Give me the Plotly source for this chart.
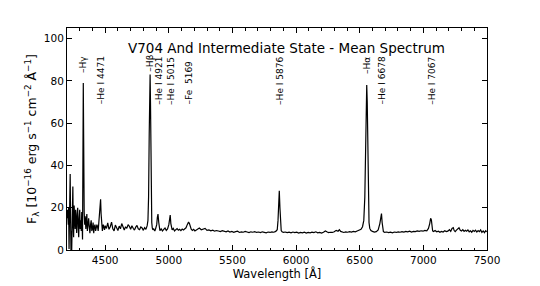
import plotly.graph_objects as go

wavelength = [
    4200, 4205, 4210, 4213, 4216, 4219, 4222, 4225, 4228, 4231, 4234, 4237, 4240, 4243, 4246, 4249,
    4252, 4256, 4260, 4264, 4268, 4272, 4276, 4280, 4284, 4288, 4292, 4296, 4300, 4304, 4308, 4312,
    4316, 4319, 4322, 4325, 4328, 4331, 4335, 4339, 4343, 4348, 4352, 4356, 4360, 4365, 4370, 4375, 4380,
    4385, 4390, 4395, 4400, 4405, 4410, 4415, 4420, 4425, 4430, 4435, 4440, 4445, 4450, 4455, 4460,
    4464, 4468, 4473, 4478, 4485, 4490, 4495,
    4500, 4510, 4520, 4530, 4540, 4550, 4560, 4570, 4580, 4590, 4600, 4610, 4620, 4630, 4640, 4650,
    4660, 4670, 4680, 4690, 4700, 4710, 4720, 4730, 4740, 4750, 4760, 4770, 4780, 4790, 4800, 4810,
    4820, 4830, 4836, 4841, 4846, 4850, 4853, 4856, 4859, 4862, 4866, 4870, 4875, 4880, 4890, 4895,
    4900, 4905, 4910, 4915, 4921, 4926, 4930, 4940, 4950, 4960, 4970, 4980, 4990, 5000, 5006, 5011,
    5016, 5021, 5026, 5035, 5045, 5055, 5065, 5075, 5085, 5095, 5105, 5115, 5125, 5135, 5145, 5155,
    5162, 5169, 5176, 5185, 5195, 5205, 5215,
    5225, 5240, 5255, 5270, 5285, 5300, 5315, 5330, 5345, 5360, 5375, 5390, 5405, 5420, 5435, 5450,
    5465, 5480, 5495, 5510, 5525, 5540, 5555, 5570, 5585, 5600, 5615, 5630, 5645, 5660, 5675, 5690,
    5705, 5720, 5735, 5750, 5765, 5780, 5795, 5810, 5825, 5840, 5852, 5858, 5863, 5868, 5873, 5878,
    5883, 5890, 5900, 5915, 5930, 5945, 5960, 5975, 5990, 6005, 6020, 6035, 6050, 6065, 6080, 6095,
    6110, 6125, 6140, 6155, 6170, 6185, 6200, 6215, 6230, 6245, 6255, 6270, 6285, 6300, 6315, 6330,
    6340, 6350, 6360, 6375, 6390, 6405, 6420, 6435, 6450, 6465, 6480, 6495, 6510, 6522, 6532, 6540,
    6546, 6551, 6555, 6559, 6563, 6568, 6573, 6579, 6588, 6600, 6615, 6630, 6645, 6658, 6666, 6671,
    6676, 6681, 6686, 6696, 6712, 6727, 6742, 6757, 6772, 6787, 6802, 6817, 6832, 6847, 6862, 6877,
    6892, 6907, 6922, 6937, 6952, 6967, 6982, 6997, 7012, 7027, 7040, 7050, 7057, 7063, 7068, 7073,
    7080, 7092, 7105, 7118, 7130, 7142, 7155, 7168, 7180, 7192, 7205, 7215, 7225, 7235, 7242, 7250,
    7260, 7270, 7280, 7290, 7300, 7310, 7320, 7330, 7340, 7350, 7360, 7370, 7380, 7390, 7400, 7410,
    7420, 7430, 7440, 7450, 7460, 7470, 7480, 7490, 7497, 7500,
]

flux = [
    15, 19, 12, 20, 0.5, 14, 22, 36, 17, 0, 9, 0, 13, 18, 30, 12,
    6, 21, 16, 10, 19, 14, 8, 17, 20, 11, 6, 15, 19, 10, 14, 9,
    18, 12, 5, 40, 79, 52, 18, 12, 16, 10, 14, 17, 9, 13, 15, 11,
    8, 12, 14, 9, 10, 13, 8, 11, 12, 9, 10, 12, 11, 9, 13, 16,
    21, 24, 17, 11, 9, 12, 10,
    9.5, 11.5, 10.2, 12.8, 9.8, 11.0, 13.2, 10.0, 9.0, 11.8, 10.5, 9.2, 11.3, 10.0, 12.5, 10.8,
    9.5, 11.0, 10.2, 12.0, 11.2, 9.8, 11.5, 10.3, 9.4, 10.8, 11.6, 10.0, 9.6, 10.9, 10.4, 9.3,
    10.6, 9.8, 11.5, 14, 25, 55, 78, 83, 70, 40, 20, 13, 10.5, 9.5, 10.2, 9.0,
    9.8, 10.5, 12, 15.5, 17, 13, 10, 9.2, 10.0, 9.0, 9.8, 10.4, 9.3, 10.0, 12, 15,
    16.5, 12.5, 10, 9.5, 10.2, 9.0, 9.6, 10.1, 9.4, 9.8, 9.2, 9.9, 9.5, 10.0, 10.5, 12,
    13.2, 12.5, 11, 9.8, 9.3, 9.8, 9.0,
    9.4, 9.9, 10.4, 9.6, 9.8, 10.2, 9.3, 9.5, 9.1, 9.4, 8.9, 9.2, 9.0, 8.7, 9.1, 8.8,
    8.6, 9.0, 8.5, 8.8, 8.4, 8.7, 8.9, 8.3, 8.6, 8.4, 8.8, 8.5, 8.2, 8.6, 8.4, 8.7,
    8.3, 8.5, 8.2, 8.6, 8.4, 8.1, 8.5, 8.3, 8.6, 8.4, 8.8, 9.6, 14, 24, 28, 20,
    11.5, 9.2, 8.6, 8.3, 8.5, 8.2, 8.4, 8.1, 8.5, 8.2, 8.4, 8.0, 8.3, 8.1, 8.4, 8.0,
    8.3, 8.1, 8.4, 8.2, 8.6, 8.1, 8.3, 8.0, 8.4, 9.0, 8.5, 8.2, 8.4, 8.3, 8.6, 9.3,
    8.9, 9.6, 8.8, 8.5, 8.3, 8.6, 8.4, 8.7, 8.5, 8.8, 8.6, 9.0, 9.3, 9.8, 11, 14,
    25, 48, 72, 78, 70, 44, 22, 13, 10.2, 9.2, 8.8, 8.5, 8.7, 9.5, 12.5, 16.5,
    17.2, 13, 9.8, 8.7, 8.3, 8.5, 8.2, 8.4, 8.1, 8.5, 8.3, 8.6, 8.4, 8.7, 8.5, 8.8,
    8.6, 8.9, 8.5, 8.8, 8.7, 9.0, 8.8, 9.1, 8.9, 9.3, 9.1, 10.2, 12.5, 15.0, 14.2, 10.6,
    9.0, 8.7, 9.2, 8.6, 8.9, 8.4, 8.8, 8.5, 9.1, 8.7, 8.9, 9.6, 8.8, 10.2, 10.6, 9.2,
    8.7, 9.4, 10.0, 10.5, 9.3, 9.0, 9.6, 8.8, 9.3, 8.9, 9.5, 8.6, 9.1, 8.4, 9.3, 8.8,
    9.4, 8.5, 9.2, 8.7, 9.5, 8.3, 9.0, 8.2, 9.1, 8.6,
]

line_labels = ["–Hγ", "–He I 4471", "–Hβ", "–He I 4921", "–He I 5015", "–Fe&nbsp; 5169",
               "–He I 5876", "–Hα", "–He I 6678", "–He I 7067"]
line_wavelengths = [4326, 4464, 4850, 4916, 5013, 5158, 5868, 6557, 6674, 7062]
label_heights = [83.0, 68.3, 84.0, 68.3, 68.3, 68.3, 68.3, 83.0, 68.3, 68.3]

title_text = "V704 And Intermediate State - Mean Spectrum"

FONT = "DejaVu Sans"

fig = go.Figure()
fig.add_trace(go.Scatter(x=wavelength, y=flux, mode="lines",
                         line=dict(color="black", width=1.2), showlegend=False,
                         hoverinfo="skip"))

for lab, wl, h in zip(line_labels, line_wavelengths, label_heights):
    fig.add_annotation(x=wl, y=h, text=lab, textangle=-90, showarrow=False,
                       xanchor="center", yanchor="bottom", borderpad=0,
                       font=dict(family=FONT, size=9, color="black"))

fig.add_annotation(x=5925, y=95.4, text=title_text, showarrow=False,
                   xanchor="center", yanchor="middle",
                   font=dict(family=FONT, size=13.5, color="black"))

# page body has an 8px default margin, so the figure is shifted by 8px
fig.update_layout(
    width=532, height=278,
    margin=dict(l=59, r=53, t=20, b=29),
    paper_bgcolor="white", plot_bgcolor="white",
    font=dict(family=FONT, size=10.5, color="black"),
)
fig.update_xaxes(
    range=[4200, 7500], tickmode="linear", tick0=4500, dtick=500,
    ticks="inside", ticklen=5, tickwidth=1, tickcolor="black",
    minor=dict(ticks="inside", dtick=100, tick0=4200, ticklen=2.5, tickcolor="black", showgrid=False),
    showline=True, linecolor="black", linewidth=1, mirror="ticks",
    showgrid=False, zeroline=False,
    tickfont=dict(family=FONT, size=10.5, color="black"),
    title=dict(text="Wavelength [Å]", font=dict(family=FONT, size=11.5, color="black"), standoff=0),
)
fig.update_yaxes(
    range=[0, 105], tickmode="linear", tick0=0, dtick=20,
    ticks="inside", ticklen=5, tickwidth=1, tickcolor="black",
    showline=True, linecolor="black", linewidth=1, mirror="ticks",
    showgrid=False, zeroline=False,
    tickfont=dict(family=FONT, size=10.5, color="black"),
    title=dict(text="F<sub>λ</sub> [10<sup>−16</sup> erg s<sup>−1</sup> cm<sup>−2</sup> Å<sup>−1</sup>]",
               font=dict(family=FONT, size=12.5, color="black"), standoff=4),
)

fig.write_html("out.html")
